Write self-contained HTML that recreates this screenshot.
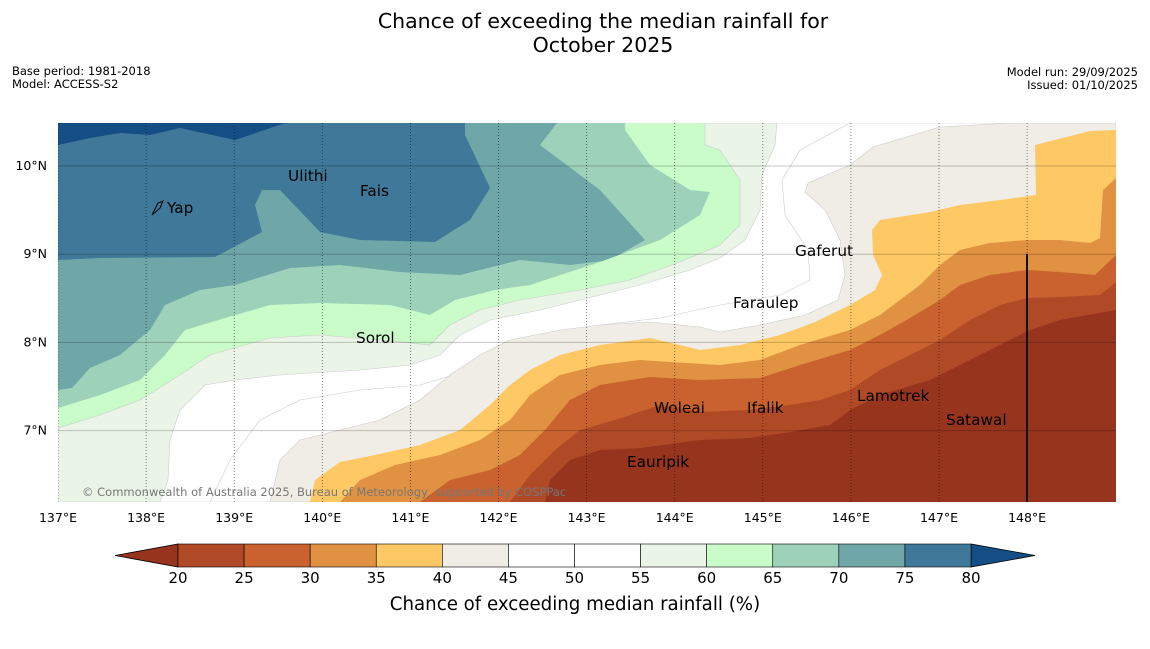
<!DOCTYPE html>
<html><head><meta charset="utf-8">
<style>
body{margin:0;background:#fff;font-family:"Liberation Sans","DejaVu Sans",sans-serif;}
svg text{font-family:"DejaVu Sans","Liberation Sans",sans-serif;}
</style></head>
<body>
<svg id="s" width="1150" height="644" viewBox="0 0 1150 644" xmlns="http://www.w3.org/2000/svg">
<text x="603" y="28" font-size="20.5" text-anchor="middle">Chance of exceeding the median rainfall for</text>
<text x="603" y="52" font-size="20.5" text-anchor="middle">October 2025</text>
<text x="12" y="75" font-size="11.5">Base period: 1981-2018</text>
<text x="12" y="88" font-size="11.5">Model: ACCESS-S2</text>
<text x="1138" y="76" font-size="11.5" text-anchor="end">Model run: 29/09/2025</text>
<text x="1138" y="89" font-size="11.5" text-anchor="end">Issued: 01/10/2025</text>
<defs><clipPath id="mc"><rect x="58" y="123" width="1058" height="379"/></clipPath></defs>
<g id="map" clip-path="url(#mc)">
<rect x="58" y="123" width="1058" height="379" fill="#6fa6a8"/>
<polygon fill="#3f7898" points="58,123 465,123 465,135 490,188 470,220 435,242 360,240 320,232 280,190 262,190 255,205 262,232 215,257 100,258 58,260"/>
<polygon fill="#154d85" points="58,123 285,123 235,140 180,128 150,135 120,133 90,138 58,145"/>
<polygon fill="#9dd1b9" points="557,123 540,145 600,190 645,240 610,260 570,265 520,260 460,275 400,272 340,265 290,268 235,285 200,290 165,305 150,330 120,355 90,368 72,388 58,390 58,502 1116,502 1116,123"/>
<polygon fill="#c9fcc8" points="625,123 625,130 650,165 690,190 710,192 700,215 660,240 600,262 530,285 495,290 455,300 430,315 390,305 320,303 270,305 225,318 185,330 165,355 140,380 100,395 58,408 58,502 1116,502 1116,123"/>
<polygon fill="#eaf5e8" stroke="#ccc" stroke-width="0.6" points="705,123 705,145 720,150 740,180 740,225 720,245 680,262 630,280 580,290 520,300 480,310 450,325 430,345 380,340 320,335 270,338 210,355 180,375 140,400 100,415 58,428 58,502 1116,502 1116,123"/>
<polygon fill="#ffffff" stroke="#ccc" stroke-width="0.6" points="777,123 775,145 762,175 760,210 745,240 720,258 690,270 640,285 600,295 540,310 490,320 460,335 440,355 410,365 360,370 280,375 235,380 205,385 180,410 170,440 168,480 160,502 1116,502 1116,123"/>
<polyline fill="none" stroke="#ccc" stroke-width="0.6" points="850,123 800,150 782,180 785,215 808,250 810,280 780,295 720,305 660,318 600,325 540,335 500,345 470,370 420,385 360,390 300,400 260,420 230,460 210,502"/>
<polygon fill="#f0ece6" stroke="#ccc" stroke-width="0.6" points="1010,123 940,127 873,147 850,165 808,183 805,192 825,210 840,240 845,275 838,300 805,315 760,325 720,332 700,327 650,322 600,325 560,330 510,340 480,355 450,375 420,400 380,420 340,430 300,440 280,460 270,502 1116,502 1116,123"/>
<polygon fill="#fec965" points="1116,130 1090,131 1035,145 1036,195 1000,200 960,205 930,212 880,220 872,230 873,255 882,275 875,290 850,305 815,322 780,335 740,345 700,350 680,345 650,338 600,345 560,355 530,370 510,385 490,405 460,430 420,445 375,455 340,462 315,480 310,502 1116,502"/>
<polygon fill="#e09142" points="1116,178 1103,190 1100,238 1090,243 1060,240 1027,240 990,243 960,250 940,265 920,285 900,300 880,315 850,330 800,345 760,360 720,365 670,362 640,360 600,365 560,375 530,395 510,420 480,440 440,455 395,465 360,480 340,502 1116,502"/>
<polygon fill="#c9622f" points="1116,255 1095,275 1060,272 1027,270 990,275 960,285 940,300 910,318 880,335 850,350 800,365 760,378 700,380 650,377 600,385 570,400 545,430 520,455 490,470 450,480 420,502 1116,502"/>
<polygon fill="#b04a26" points="1116,282 1100,295 1060,297 1027,298 1000,305 970,320 940,340 910,355 880,370 850,390 820,400 790,405 750,410 700,412 660,405 615,420 580,430 555,450 530,475 510,502 1116,502"/>
<polygon fill="#96341e" points="1116,310 1060,320 1030,330 1000,345 960,365 930,380 880,395 850,410 830,425 790,432 750,438 700,440 640,448 600,450 570,460 550,480 545,502 1116,502"/>
<g id="grid"></g>
<line x1="1027" y1="254" x2="1027" y2="502" stroke="#111" stroke-width="2"/>
</g>
<g font-size="15.3" fill="#000">
<path d="M152,215 L158,203 L163,201 L160,208 Z" fill="none" stroke="#000" stroke-width="1"/>
<text x="167" y="213">Yap</text>
<text x="288" y="181">Ulithi</text>
<text x="360" y="196">Fais</text>
<text x="795" y="256">Gaferut</text>
<text x="733" y="308">Faraulep</text>
<text x="356" y="343">Sorol</text>
<text x="654" y="413">Woleai</text>
<text x="747" y="413">Ifalik</text>
<text x="857" y="401">Lamotrek</text>
<text x="946" y="425">Satawal</text>
<text x="627" y="467">Eauripik</text>
</g>
<text x="82" y="496" font-size="11.5" fill="#777">© Commonwealth of Australia 2025, Bureau of Meteorology, supported by COSPPac</text>
<g id="axes" font-size="12.5"></g>
<g id="cbar"></g>
<text x="575" y="610" font-size="18.2" text-anchor="middle">Chance of exceeding median rainfall (%)</text>
</svg>
<script>
const lonTicks=[137,138,139,140,141,142,143,144,145,146,147,148];
const latTicks=[10,9,8,7];
const cbarLevels=[20,25,30,35,40,45,50,55,60,65,70,75,80];
const cbarColors=["#b04a26","#c9622f","#e09142","#fec965","#f0ece6","#ffffff","#ffffff","#eaf5e8","#c9fcc8","#9dd1b9","#6fa6a8","#3f7898"];
const underColor="#96341e", overColor="#154d85";
const NS="http://www.w3.org/2000/svg";
const xLon=l=>58+(l-137)*88.1;
const yLat=l=>166+(10-l)*88.2;
const xC=v=>178+(v-20)*(793/60);
function mk(t,a,p){const e=document.createElementNS(NS,t);for(const k in a)e.setAttribute(k,a[k]);p.appendChild(e);return e;}
const grid=document.getElementById('grid'),axes=document.getElementById('axes'),cb=document.getElementById('cbar');
latTicks.forEach(l=>{const y=yLat(l);
 const g=mk('line',{x1:58,x2:1116,y1:y,y2:y,stroke:'#000','stroke-opacity':0.22,'stroke-width':1},grid);
 
 
 const t=mk('text',{x:47,y:y+4,'text-anchor':'end'},axes);t.textContent=l+'°N';
 
 
});
lonTicks.forEach(l=>{const x=xLon(l);
 const g=mk('line',{x1:x,x2:x,y1:123,y2:502,stroke:'#000','stroke-opacity':0.6,'stroke-width':0.8,'stroke-dasharray':'1,2'},grid);
 
 
 const t=mk('text',{x:x,y:522,'text-anchor':'middle'},axes);t.textContent=l+'°E';
 
 
});
const y0=544,y1=567,ym=(y0+y1)/2;
const u=mk('polygon',{points:`${xC(20)},${y0} ${xC(20)},${y1} 115,${ym}`,fill:underColor,stroke:'#000','stroke-width':0.8},cb);


const o=mk('polygon',{points:`${xC(80)},${y0} ${xC(80)},${y1} 1035,${ym}`,fill:overColor,stroke:'#000','stroke-width':0.8},cb);


cbarColors.forEach((c,i)=>{
 const r=mk('rect',{x:xC(cbarLevels[i]),y:y0,width:xC(cbarLevels[i+1])-xC(cbarLevels[i]),height:y1-y0,fill:c,stroke:'#000','stroke-width':0.6},cb);
 
 
});
cbarLevels.forEach(v=>{
 const t=mk('text',{x:xC(v),y:583,'font-size':15,'text-anchor':'middle'},cb);t.textContent=v;
 
 
});
</script>
</body></html>
